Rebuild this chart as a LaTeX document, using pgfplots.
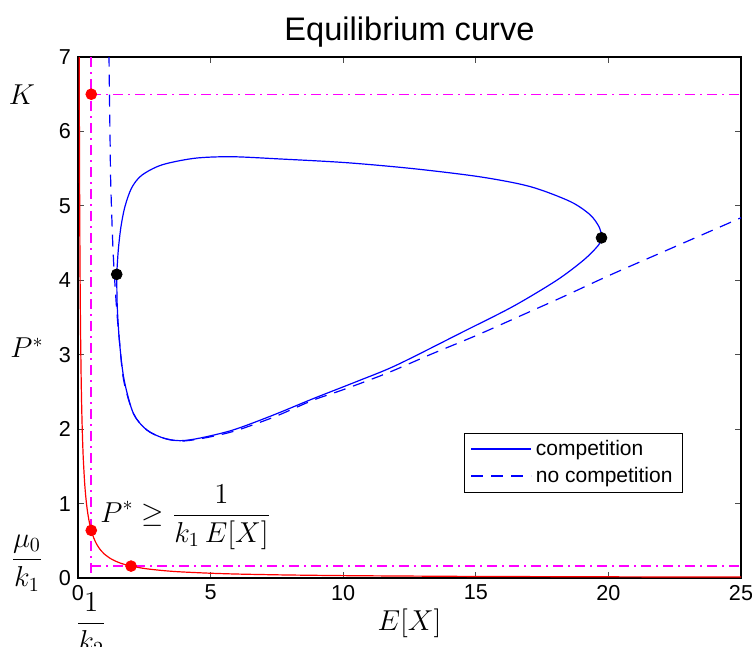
\documentclass[border=0pt]{standalone}
\usepackage{fontspec}
\setmainfont{Liberation Sans}
\usepackage{pgfplots}
\pgfplotsset{compat=1.18}

\definecolor{mblue}{rgb}{0,0,1}
\definecolor{mred}{rgb}{1,0,0}
\definecolor{mmag}{rgb}{1,0,1}

\begin{document}
\begin{tikzpicture}
\begin{axis}[
    name=ax,
    scale only axis,
    width=331.5pt, height=260.5pt,
    xmin=0, xmax=25, ymin=0, ymax=7,
    xtick={0,5,10,15,20,25},
    ytick={0,1,2,3,4,5,6,7},
    tick align=inside,
    major tick length=3pt,
    axis line style={line width=0.8pt},
    tick style={line width=0.5pt, black!70},
    ticklabel style={font=\fontsize{10.8}{13}\selectfont},
    /pgf/number format/assume math mode=true,
    title={Equilibrium curve},
    title style={font=\fontsize{16.3}{19}\selectfont, at={(0.5,1)}, anchor=base, yshift=2.5pt},
    clip mode=individual,
    legend style={at={(0.9125,0.163)}, anchor=south east,
        font=\fontsize{10.5}{12.5}\selectfont, draw=black, line width=0.5pt,
        inner xsep=3pt, inner ysep=1.5pt, row sep=0.5pt},
    legend cell align=left,
    legend image code/.code={\draw[#1, line width=0.75pt] (0pt,0.2pt) -- (30pt,0.2pt);},
]
% competition
\addplot[draw=mblue, line width=0.6pt, smooth] coordinates {
    (1.46,4.08) (1.48,3.65) (1.57,3.15) (1.74,2.66) (2.09,2.21) (2.59,1.99)
    (3.22,1.88) (3.85,1.845) (4.6,1.88) (5.86,1.99) (7.37,2.19) (8.87,2.41)
    (10.51,2.64) (12.01,2.86) (14.53,3.31) (16.41,3.65) (18.05,4.00)
    (19.06,4.27) (19.62,4.47) (19.74,4.58) (19.66,4.71) (19.31,4.88)
    (18.55,5.06) (17.04,5.26) (15.16,5.39) (12.64,5.50) (10.13,5.58)
    (7.62,5.63) (5.8,5.66) (4.41,5.64) (3.16,5.55) (2.40,5.41) (2.02,5.24)
    (1.77,4.99) (1.62,4.72) (1.52,4.41) (1.46,4.08)
};
\addlegendentry{competition}
% no competition
\addplot[draw=mblue, line width=0.6pt, smooth, dash pattern=on 6pt off 4pt] coordinates {
    (1.16,7.3) (1.17,7.0) (1.19,6.4) (1.21,5.88) (1.23,5.37) (1.27,4.9)
    (1.31,4.5) (1.35,4.2) (1.40,3.91) (1.47,3.55) (1.56,3.20) (1.72,2.66)
    (2.09,2.21) (2.59,1.99) (3.22,1.88) (3.85,1.84) (4.6,1.87) (5.86,1.97)
    (7.37,2.16) (8.87,2.39) (10.0,2.53) (11.64,2.75) (13.27,3.00)
    (15.03,3.26) (16.67,3.52) (18.30,3.78) (20.06,4.07) (22.5,4.45) (25,4.84)
};
\addlegendentry{no competition}
% guide lines
\addplot[color=mmag, line width=0.85pt, dash pattern=on 5pt off 2.5pt on 1pt off 2.5pt, forget plot]
    coordinates {(0.5,7) (0.5,0)};
\addplot[color=mmag, line width=0.6pt, dash pattern=on 5pt off 2.5pt on 1pt off 2.5pt, forget plot]
    coordinates {(0.5,6.5) (25,6.5)};
\addplot[color=mmag, line width=0.6pt, dash pattern=on 5pt off 2.5pt on 1pt off 2.5pt, forget plot]
    coordinates {(0.5,0.16) (25,0.16)};
% lower bound 1/(k1 E[X])
\addplot[draw=mred, line width=0.6pt, smooth, forget plot] coordinates {
    (0.044,7.27) (0.046,6.957) (0.05,6.4) (0.055,5.818) (0.06,5.333) (0.07,4.571)
    (0.08,4.0) (0.09,3.556) (0.1,3.2) (0.12,2.667) (0.14,2.286) (0.16,2.0)
    (0.18,1.778) (0.2,1.6) (0.25,1.28) (0.3,1.067) (0.35,0.914) (0.4,0.8)
    (0.45,0.711) (0.5,0.64) (0.6,0.533) (0.7,0.457) (0.8,0.4) (0.9,0.356)
    (1.0,0.32) (1.2,0.267) (1.4,0.229) (1.6,0.2) (1.8,0.178) (2.0,0.16)
    (2.5,0.128) (3,0.107) (3.5,0.091) (4,0.08) (5,0.064) (6,0.053) (7,0.046)
    (8,0.04) (10,0.032) (12,0.027) (15,0.021) (18,0.018) (21,0.015) (25,0.0128)
};
% points
\addplot[only marks, mark=*, mark size=2.7pt, color=mred, forget plot]
    coordinates {(0.5,6.5) (0.5,0.64) (2.0,0.16)};
\addplot[only marks, mark=*, mark size=2.7pt, color=black, forget plot]
    coordinates {(1.46,4.08) (19.74,4.57)};
% labels
\node[font=\fontsize{14}{17}\selectfont, xshift=-28pt] at (axis cs:0,6.5) {$K$};
\node[font=\fontsize{14}{17}\selectfont, xshift=-25.5pt] at (axis cs:0,3.09) {$P^*$};
\node[font=\fontsize{14}{17}\selectfont, xshift=-25.5pt] at (axis cs:0,0.2) {$\displaystyle\frac{\mu_0}{k_1}$};
\node[font=\fontsize{14}{17}\selectfont, yshift=-23pt] at (axis cs:0.5,0) {$\displaystyle\frac{1}{k_2}$};
\node[font=\fontsize{14}{17}\selectfont, yshift=-22.5pt] at (axis cs:12.5,0) {$E[X]$};
\node[font=\fontsize{14}{17}\selectfont, anchor=west, inner sep=0pt] at (axis cs:0.83,0.82)
    {$\displaystyle P^* \geq \frac{1}{k_1\,E[X]}$};
\end{axis}
\pgfresetboundingbox
\path[use as bounding box] ([xshift=-39pt,yshift=-34pt]ax.south west) rectangle ([xshift=5.5pt,yshift=28.5pt]ax.north east);
\end{tikzpicture}
\end{document}
